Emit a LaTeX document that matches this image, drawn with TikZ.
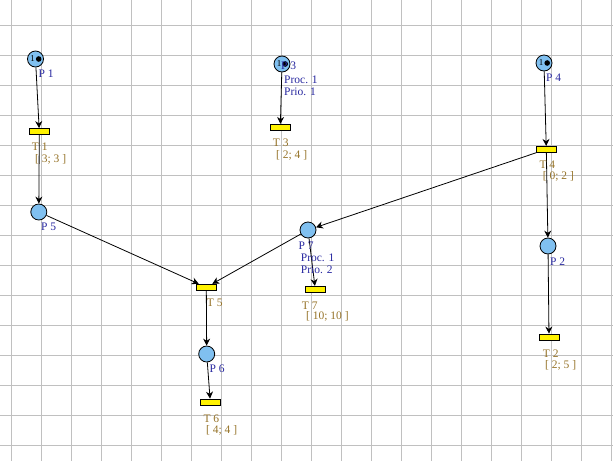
\documentclass[tikz,border=0pt]{standalone}
\usepackage{fontspec}
\setmainfont{Liberation Serif}
\usetikzlibrary{arrows.meta}

\definecolor{placeblue}{RGB}{128,192,240}
\definecolor{placetext}{RGB}{40,40,160}
\definecolor{transtext}{RGB}{150,115,40}
\definecolor{gridgray}{RGB}{192,192,192}

\begin{document}
\begin{tikzpicture}[x=1pt,y=-1pt,
    gridline/.style={gridgray,line width=1pt},
    place/.style={shape=circle,draw=black,fill=placeblue,minimum size=16pt,inner sep=0pt,line width=0.8pt},
    marked/.style={path picture={
        \fill[black] ([xshift=3.2pt]path picture bounding box.center) circle (2.8pt);
        \node[inner sep=0pt,font=\fontsize{9}{9}\selectfont] at ([xshift=-2.8pt]path picture bounding box.center) {1};}},
    transition/.style={shape=rectangle,draw=black,fill=yellow,minimum width=20pt,minimum height=6pt,inner sep=0pt,line width=0.8pt},
    plabel/.style={anchor=base west,inner sep=0pt,text=placetext,font=\fontsize{11.5}{12}\selectfont},
    tlabel/.style={plabel,text=transtext},
    arc/.style={-{Stealth[length=7pt,width=7pt]},line width=0.8pt}]

    \useasboundingbox (0,0) rectangle (613,461);
    \fill[white] (0,0) rectangle (613,461);

    % grid
    \foreach \gx in {0,...,20}
        \draw[gridline] (11.7+30*\gx,0) -- (11.7+30*\gx,461);
    \foreach \gy in {0,...,14}
        \draw[gridline] (0,25+30*\gy) -- (613,25+30*\gy);

    % places
    \node[place,marked] (P1) at (35.5,59) {};
    \node[place,marked] (P3) at (282,64) {};
    \node[place,marked] (P4) at (544,63) {};
    \node[place] (P5) at (38.8,212) {};
    \node[place] (P7) at (308,230) {};
    \node[place] (P2) at (548,246) {};
    \node[place] (P6) at (206.7,354) {};

    % transitions
    \node[transition] (T1) at (39.3,131.5) {};
    \node[transition] (T3) at (280.3,127.3) {};
    \node[transition] (T4) at (546.3,149.3) {};
    \node[transition] (T5) at (206.3,287.2) {};
    \node[transition] (T7) at (315.3,289.3) {};
    \node[transition] (T2) at (549,337) {};
    \node[transition] (T6) at (210.3,402) {};

    % arcs
    \path [arc](P1) edge (T1);
    \path [arc](T1) edge (P5);
    \path [arc](P5) edge (T5);
    \path [arc](P3) edge (T3);
    \path [arc](P4) edge (T4);
    \path [arc](T4) edge (P7);
    \path [arc](T4) edge (P2);
    \path [arc](P7) edge (T5);
    \path [arc](P7) edge (T7);
    \path [arc](T5) edge (P6);
    \path [arc](P6) edge (T6);
    \path [arc](P2) edge (T2);

    % labels
    \node[plabel] (lP1) at (38.3,77.7) {P 1};
    \node[plabel] (lP3) at (281,69.5) {P 3};
    \node[plabel] (lP3a) at (284,83) {Proc. 1};
    \node[plabel] (lP3b) at (284,95) {Prio. 1};
    \node[plabel] (lP4) at (546,81.7) {P 4};
    \node[plabel] (lP5) at (41,230.7) {P 5};
    \node[plabel] (lP7) at (298.3,249) {P 7};
    \node[plabel] (lP7a) at (300.7,261.7) {Proc. 1};
    \node[plabel] (lP7b) at (300.7,273.3) {Prio. 2};
    \node[plabel] (lP6) at (209.3,372.7) {P 6};
    \node[plabel] (lP2) at (550,265) {P 2};

    \node[tlabel] (lT1) at (31.7,150.7) {T 1};
    \node[tlabel] (iT1) at (35,162.2) {[ 3; 3 ]};
    \node[tlabel] (lT3) at (272.7,146.7) {T 3};
    \node[tlabel] (iT3) at (276,158) {[ 2; 4 ]};
    \node[tlabel] (lT4) at (539.3,168.3) {T 4};
    \node[tlabel] (iT4) at (542.7,179.6) {[ 0; 2 ]};
    \node[tlabel] (lT5) at (206.7,306.7) {T 5};
    \node[tlabel] (lT7) at (301.7,309) {T 7};
    \node[tlabel] (iT7) at (306,319.6) {[ 10; 10 ]};
    \node[tlabel] (lT6) at (203.3,422.7) {T 6};
    \node[tlabel] (iT6) at (206,433) {[ 4; 4 ]};
    \node[tlabel] (lT2) at (542.7,357.3) {T 2};
    \node[tlabel] (iT2) at (545,368) {[ 2; 5 ]};

\end{tikzpicture}
\end{document}
